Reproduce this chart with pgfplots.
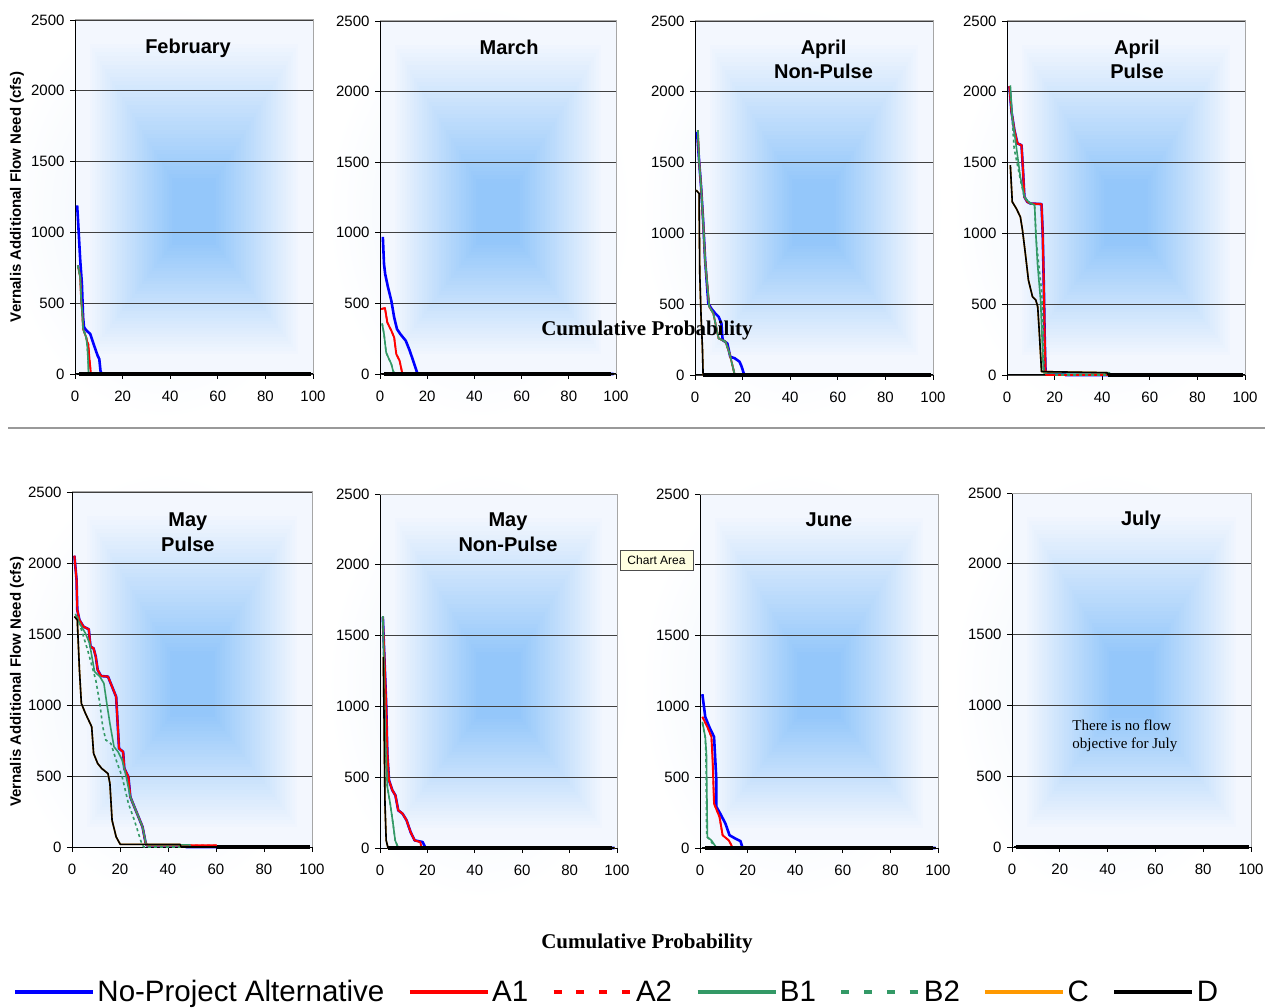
\documentclass[border=0pt]{standalone}
\usepackage{pgfplots}
\pgfplotsset{compat=1.18}
\usepackage{fontspec}
\setmainfont{Liberation Sans}
\newfontfamily\seriffont{Liberation Serif}
\definecolor{npblue}{RGB}{0,0,255}
\definecolor{sgreen}{RGB}{51,153,102}
\definecolor{corange}{RGB}{255,153,0}
\definecolor{tipyellow}{RGB}{255,255,225}
\definecolor{bgcenter}{RGB}{148,199,250}
\definecolor{bgedge}{RGB}{243,247,254}
\definecolor{bgarea}{RGB}{236,243,252}
% nested-rectangle "from centre" gradient behind each plot area
\newcommand\panelbg[4]{%
  \pgfmathsetmacro\cx{#1+0.5*#3}%
  \pgfmathsetmacro\cy{#2+0.45*#4}%
  \foreach \i in {0,...,47}{%
    \pgfmathsetmacro\t{1-\i/48}%
    \pgfmathsetmacro\p{100*min(1,max(0,(0.9-\t)/0.72))}%
    \fill[bgcenter!\p!bgedge] ({\cx-\t*(\cx-#1)},{\cy-\t*(\cy-#2)}) rectangle ({\cx+\t*(#1+#3-\cx)},{\cy+\t*(#2+#4-\cy)});
  }}
\tikzset{
  np/.style={npblue, line width=2.6pt},
  aone/.style={red, line width=1.9pt},
  atwo/.style={red, line width=1.6pt, dash pattern=on 3pt off 3pt},
  bone/.style={sgreen, line width=1.6pt},
  btwo/.style={sgreen, line width=1.6pt, dash pattern=on 3pt off 3pt},
  cc/.style={corange, line width=1.6pt},
  dd/.style={black, line width=1.6pt},
  zl/.style={black, line width=3.4pt},
  ttl/.style={font=\fontsize{20}{24}\bfseries\selectfont, anchor=base},
}
\pgfplotsset{
  panel/.style={
    scale only axis, anchor=south west,
    xmin=0, xmax=100, ymin=0, ymax=2500,
    xtick={0,20,...,100}, ytick={0,500,...,2500},
    axis x line*=bottom, axis y line*=left,
    axis line style={black, line width=1pt, -},
    tick align=outside, major tick length=5pt,
    tick style={black, line width=0.8pt},
    ymajorgrids, grid style={black!75, line width=0.9pt},
    tick label style={font=\fontsize{15}{18}\selectfont},
    xticklabel style={yshift=-8pt},
    yticklabel style={xshift=-2pt},
    /pgf/number format/assume math mode=true,
    /pgf/number format/1000 sep={},
    clip=false,
    every axis plot/.append style={mark=none, line join=round},
    ylabel style={font=\fontsize{15}{18}\bfseries\selectfont},
    execute at end axis={\draw[black!35, line width=1pt] (rel axis cs:0,1) -- (rel axis cs:1,1) -- (rel axis cs:1,0);},
  },
}
\begin{document}
\begin{tikzpicture}[x=1pt,y=1pt]
\useasboundingbox (0,0) rectangle (1265,1007);
% chart area backgrounds
\shade[inner color=bgarea, outer color=white] (5,587) rectangle (322,1004);
\shade[inner color=bgarea, outer color=white] (327,587) rectangle (632,1004);
\shade[inner color=bgarea, outer color=white] (640,587) rectangle (945,1004);
\shade[inner color=bgarea, outer color=white] (952,587) rectangle (1262,1004);
\shade[inner color=bgarea, outer color=white] (5,107) rectangle (322,537);
\shade[inner color=bgarea, outer color=white] (327,107) rectangle (632,537);
\shade[inner color=bgarea, outer color=white] (640,107) rectangle (945,537);
\shade[inner color=bgarea, outer color=white] (952,107) rectangle (1262,537);
% plot area gradients
\panelbg{75}{633}{238}{354}
\panelbg{380}{633}{236}{353}
\panelbg{695}{632}{238}{354}
\panelbg{1007}{632}{238}{354}
\panelbg{72}{160}{240}{355}
\panelbg{380}{159}{237}{354}
\panelbg{700}{159}{238}{354}
\panelbg{1012}{160}{239}{354}
\draw[black!40, line width=1.2pt] (8,579) -- (1265,579);

% ---------- February
\begin{axis}[panel, at={(75pt,633pt)}, width=238pt, height=354pt,
  ylabel={Vernalis Additional Flow Need (cfs)},
  ylabel style={at={(axis description cs:-0.244,0.5)}, anchor=center}]
\addplot[np] coordinates {(0.9,1191)(1.2,1108)(1.7,955)(2.2,802)(2.9,637)(3.4,401)(3.8,330)(4.8,307)(6.4,283)(7.8,212)(9.5,130)(10.2,106)(10.7,24)(11.2,0)(99,0)};
\addplot[aone] coordinates {(1.2,766)(2.2,684)(2.6,519)(3.1,424)(3.4,318)(4.7,259)(5.2,224)(5.6,210)(6.0,118)(6.4,50)(6.7,0)(99,0)};
\addplot[atwo] coordinates {(1.2,766)(2.2,684)(2.6,519)(3.1,424)(3.4,318)(4.7,259)(5.2,224)(5.6,210)(6.0,118)(6.4,50)(6.7,0)(99,0)};
\addplot[bone] coordinates {(1.2,766)(2.2,684)(2.6,519)(3.1,424)(3.4,318)(4.7,259)(5.2,189)(5.5,94)(5.7,0)(99,0)};
\addplot[btwo] coordinates {(1.2,766)(2.2,684)(2.6,519)(3.1,424)(3.4,318)(4.7,259)(5.2,189)(5.5,94)(5.7,0)(99,0)};
\addplot[cc] coordinates {(1,0)(99,0)};
\addplot[dd] coordinates {(1,0)(99,0)};
\addplot[zl] coordinates {(1.8,0)(99,0)};
\node[ttl] at (axis cs:47.5,2265) {February};
\end{axis}

% ---------- March
\begin{axis}[panel, at={(380pt,633pt)}, width=236pt, height=353pt]
\addplot[np] coordinates {(1.2,971)(1.7,778)(2.2,707)(3.4,613)(4.8,519)(6.0,401)(7.2,318)(8.6,283)(10.9,236)(12.6,165)(13.8,106)(15.0,47)(15.9,0)(99,0)};
\addplot[aone] coordinates {(0.5,460)(2.1,467)(3.1,365)(4.8,307)(6.0,259)(6.9,141)(8.3,94)(9.5,0)(99,0)};
\addplot[atwo] coordinates {(0.5,460)(2.1,467)(3.1,365)(4.8,307)(6.0,259)(6.9,141)(8.3,94)(9.5,0)(99,0)};
\addplot[bone] coordinates {(0.9,358)(1.7,283)(2.6,153)(3.8,106)(4.8,71)(5.5,24)(6.2,0)(99,0)};
\addplot[btwo] coordinates {(0.9,358)(1.7,283)(2.6,153)(3.8,106)(4.8,71)(5.5,24)(6.2,0)(99,0)};
\addplot[cc] coordinates {(1,0)(99,0)};
\addplot[dd] coordinates {(1,0)(99,0)};
\addplot[zl] coordinates {(1.7,0)(98,0)};
\node[ttl] at (axis cs:54.7,2265) {March};
\end{axis}

% ---------- April Non-Pulse
\begin{axis}[panel, at={(695pt,632pt)}, width=238pt, height=354pt]
\addplot[np] coordinates {(0.85,1717)(1.7,1517)(2.55,1329)(3.4,1094)(4.25,811)(5.6,506)(6.8,470)(8.5,435)(9.9,412)(11.1,365)(11.6,247)(13.6,223)(14.8,129)(16.7,118)(18.7,94)(19.6,59)(20.7,0)(99,0)};
\addplot[aone] coordinates {(1.2,1729)(1.7,1520)(2.55,1330)(3.4,1090)(4.25,810)(6.0,482)(7.7,435)(9.9,259)(12.8,235)(14.5,153)(16.7,0)(99,0)};
\addplot[atwo] coordinates {(1.2,1729)(1.7,1520)(2.55,1330)(3.4,1090)(4.25,810)(6.0,482)(7.7,435)(9.9,259)(12.8,235)(14.5,153)(16.7,0)(99,0)};
\addplot[bone] coordinates {(1.2,1729)(1.7,1520)(2.55,1330)(3.4,1090)(4.25,810)(6.0,482)(7.7,435)(9.9,259)(12.8,235)(14.5,153)(16.7,0)(99,0)};
\addplot[btwo] coordinates {(1.2,1729)(1.7,1520)(2.55,1330)(3.4,1090)(4.25,810)(6.0,482)(7.7,435)(9.9,259)(12.8,235)(14.5,153)(16.7,0)(99,0)};
\addplot[cc] coordinates {(0.5,1305)(1.7,1282)(2.0,717)(2.55,412)(3.1,200)(3.4,0)(99,0)};
\addplot[dd] coordinates {(0.5,1305)(1.7,1282)(2.0,717)(2.55,412)(3.1,200)(3.4,0)(99,0)};
\addplot[zl] coordinates {(3.4,0)(99,0)};
\node[ttl] at (axis cs:54,2265) {April};
\node[ttl] at (axis cs:54,2095) {Non-Pulse};
\end{axis}

% ---------- April Pulse
\begin{axis}[panel, at={(1007pt,632pt)}, width=238pt, height=354pt]
\addplot[np] coordinates {(1.0,2039)(1.9,1858)(3.1,1729)(4.4,1635)(6.1,1623)(6.8,1423)(7.3,1258)(8.5,1223)(9.9,1211)(14.5,1207)(15.0,1000)(15.5,600)(15.8,294)(16.2,16)(24,16)(24.5,0)(99,0)};
\addplot[aone] coordinates {(1.0,2039)(1.9,1858)(3.1,1729)(4.4,1635)(6.1,1623)(6.8,1423)(7.3,1258)(8.5,1223)(9.9,1211)(14.5,1207)(15.0,1000)(15.5,600)(15.8,294)(16.2,16)(16.5,0)(99,0)};
\addplot[atwo] coordinates {(1.0,2039)(1.9,1858)(3.1,1729)(4.4,1635)(6.1,1623)(6.8,1423)(7.3,1258)(8.5,1223)(9.9,1211)(14.5,1207)(15.0,1000)(15.5,600)(15.8,294)(16.2,16)(16.5,0)(99,0)};
\addplot[bone] coordinates {(1.4,2046)(2.2,1823)(3.9,1611)(5.6,1399)(7.3,1258)(9.0,1223)(11.6,1199)(12.1,1000)(12.8,788)(14.1,529)(15.0,153)(15.3,16)(43,16)(43.5,0)(99,0)};
\addplot[btwo] coordinates {(1.4,2000)(3.0,1600)(5.6,1380)(7.3,1255)(9,1220)(11.6,1195)(12.3,950)(13.2,800)(14.5,600)(15.2,300)(15.5,16)(20,16)(20.5,0)(99,0)};
\addplot[cc] coordinates {(1.4,1482)(2.2,1223)(3.9,1176)(5.6,1117)(6.5,1023)(7.7,858)(9.0,670)(10.7,553)(12.1,529)(12.9,482)(13.6,294)(14.5,24)(42,16)(42.5,0)(99,0)};
\addplot[dd] coordinates {(1.4,1482)(2.2,1223)(3.9,1176)(5.6,1117)(6.5,1023)(7.7,858)(9.0,670)(10.7,553)(12.1,529)(12.9,482)(13.6,294)(14.5,24)(42,16)(42.5,0)(99,0)};
\addplot[zl] coordinates {(42.5,0)(99,0)};
\node[ttl] at (axis cs:54.6,2265) {April};
\node[ttl] at (axis cs:54.6,2095) {Pulse};
\end{axis}

% ---------- May Pulse
\begin{axis}[panel, at={(72pt,160pt)}, width=240pt, height=355pt,
  ylabel={Vernalis Additional Flow Need (cfs)},
  ylabel style={at={(axis description cs:-0.229,0.465)}, anchor=center},
  legend columns=7,
  legend style={at={(axis description cs:-0.246,-0.4085)}, anchor=west,
    draw=none, fill=none, inner sep=0pt,
    font=\fontsize{29.5}{34}\selectfont,
    nodes={inner sep=2.5pt},
    /tikz/every even column/.append style={column sep=21pt}},
  legend cell align=left,
  legend image code/.code={\draw[#1] (0pt,0pt) -- (78pt,0pt);}]
\addplot[np, forget plot] coordinates {(1.0,2051)(1.9,1882)(2.2,1670)(3.1,1599)(4.8,1552)(7.0,1533)(7.7,1411)(9.0,1399)(9.9,1341)(10.7,1247)(12.1,1204)(15.0,1200)(16.7,1129)(18.4,1058)(19.6,694)(21.3,670)(21.8,553)(23.5,494)(24.3,353)(26.0,282)(27.7,212)(29.4,141)(30.6,35)(31.1,12)(47,12)(47.5,0)(99,0)};
\addplot[aone, forget plot] coordinates {(1.0,2051)(1.9,1882)(2.2,1670)(3.1,1599)(4.8,1552)(7.0,1533)(7.7,1411)(9.0,1399)(9.9,1341)(10.7,1247)(12.1,1204)(15.0,1200)(16.7,1129)(18.4,1058)(19.6,694)(21.3,670)(21.8,553)(23.5,494)(24.3,353)(26.0,282)(27.7,212)(29.4,141)(30.6,35)(31.1,12)(60,12)(60.5,0)(99,0)};
\addplot[atwo, forget plot] coordinates {(1.0,2051)(1.9,1882)(2.2,1670)(3.1,1599)(4.8,1552)(7.0,1533)(7.7,1411)(9.0,1399)(9.9,1341)(10.7,1247)(12.1,1204)(15.0,1200)(16.7,1129)(18.4,1058)(19.6,694)(21.3,670)(21.8,553)(23.5,494)(24.3,353)(26.0,282)(27.7,212)(29.4,141)(30.6,35)(31.1,12)(60,12)(60.5,0)(99,0)};
\addplot[bone, forget plot] coordinates {(1.4,1642)(3.1,1576)(5.6,1505)(7.3,1435)(9.4,1235)(11.6,1200)(13.3,1152)(14.5,1011)(15.8,870)(17.5,706)(19.2,670)(20.9,612)(22.6,494)(24.3,353)(27.7,212)(29.4,141)(30.8,24)(31,15)(49,15)(49.5,0)(99,0)};
\addplot[btwo, forget plot] coordinates {(2.2,1623)(4.8,1482)(6.5,1388)(9.9,1176)(11.6,1011)(12.8,847)(14.1,753)(16.2,729)(18.4,612)(20.9,494)(23.5,306)(26.0,188)(28.6,47)(29.4,12)(30,0)(99,0)};
\addplot[cc, forget plot] coordinates {(1.0,1623)(2.2,1599)(3.1,1247)(3.9,1011)(5.6,941)(8.2,847)(9.0,659)(10.7,588)(12.4,553)(15.0,517)(15.8,447)(16.7,188)(18.4,71)(20.1,19)(45,19)(45.5,0)(99,0)};
\addplot[dd, forget plot] coordinates {(1.0,1623)(2.2,1599)(3.1,1247)(3.9,1011)(5.6,941)(8.2,847)(9.0,659)(10.7,588)(12.4,553)(15.0,517)(15.8,447)(16.7,188)(18.4,71)(20.1,19)(45,19)(45.5,0)(99,0)};
\addplot[zl, forget plot] coordinates {(60.5,0)(99,0)};
\addlegendimage{npblue, line width=3.8pt}
\addlegendentry{No-Project Alternative}
\addlegendimage{red, line width=3.8pt}
\addlegendentry{A1}
\addlegendimage{red, line width=3.8pt, dash pattern=on 8pt off 14.7pt}
\addlegendentry{A2}
\addlegendimage{sgreen, line width=3.8pt}
\addlegendentry{B1}
\addlegendimage{sgreen, line width=3.8pt, dash pattern=on 8pt off 14.7pt}
\addlegendentry{B2}
\addlegendimage{corange, line width=3.8pt}
\addlegendentry{C}
\addlegendimage{black, line width=3.8pt}
\addlegendentry{D}
\node[ttl] at (axis cs:48.3,2255) {May};
\node[ttl] at (axis cs:48.3,2083) {Pulse};
\end{axis}

% ---------- May Non-Pulse
\begin{axis}[panel, at={(380pt,159pt)}, width=237pt, height=354pt]
\addplot[np] coordinates {(1.2,1633)(2.6,1020)(3.1,667)(3.8,478)(5.2,408)(6.5,372)(7.7,266)(9.5,243)(11.2,196)(12.9,113)(14.6,54)(18.0,42)(19.2,0)(99,0)};
\addplot[aone] coordinates {(1.2,1633)(2.6,1020)(3.1,667)(3.8,478)(5.2,408)(6.5,372)(7.7,266)(9.5,243)(11.2,196)(12.9,113)(14.6,54)(17.0,42)(17.5,0)(99,0)};
\addplot[atwo] coordinates {(1.2,1633)(2.6,1020)(3.1,667)(3.8,478)(5.2,408)(6.5,372)(7.7,266)(9.5,243)(11.2,196)(12.9,113)(14.6,54)(17.0,42)(17.5,0)(99,0)};
\addplot[bone] coordinates {(1.2,1637)(1.7,1256)(2.2,785)(3.1,431)(4.3,313)(5.5,172)(6.4,54)(7.7,0)(99,0)};
\addplot[btwo] coordinates {(1.2,1637)(1.7,1256)(2.2,785)(3.1,431)(4.3,313)(5.5,172)(6.4,54)(7.7,0)(99,0)};
\addplot[cc] coordinates {(1.4,1350)(1.7,926)(2.1,313)(2.6,54)(3.4,0)(99,0)};
\addplot[dd] coordinates {(1.4,1350)(1.7,926)(2.1,313)(2.6,54)(3.4,0)(99,0)};
\addplot[zl] coordinates {(3.4,0)(98,0)};
\node[ttl] at (axis cs:54,2269) {May};
\node[ttl] at (axis cs:54,2097) {Non-Pulse};
\end{axis}

% ---------- June
\begin{axis}[panel, at={(700pt,159pt)}, width=238pt, height=354pt,
  yticklabels={0,500,1000,1500,{},2500}]
\addplot[np] coordinates {(1.0,1086)(2.2,926)(3.9,855)(5.9,785)(6.8,502)(6.9,290)(8.5,243)(10.7,172)(12.4,90)(14.9,66)(17.0,49)(17.9,0)(99,0)};
\addplot[aone] coordinates {(1.0,926)(3.1,855)(4.8,785)(5.3,620)(5.9,313)(8.2,219)(9.5,90)(12.1,54)(13.8,0)(99,0)};
\addplot[atwo] coordinates {(1.0,926)(3.1,855)(4.8,785)(5.3,620)(5.9,313)(8.2,219)(9.5,90)(12.1,54)(13.8,0)(99,0)};
\addplot[bone] coordinates {(1.0,891)(2.2,785)(2.7,667)(3.1,78)(4.8,54)(7.0,0)(99,0)};
\addplot[btwo] coordinates {(1.0,880)(2.2,780)(2.5,650)(2.8,80)(4.5,50)(6.5,0)(99,0)};
\addplot[cc] coordinates {(1,0)(99,0)};
\addplot[dd] coordinates {(1,0)(99,0)};
\addplot[zl] coordinates {(2,0)(98,0)};
\node[ttl] at (axis cs:54.2,2269) {June};
\end{axis}

% ---------- July
\begin{axis}[panel, at={(1012pt,160pt)}, width=239pt, height=354pt]
\addplot[np] coordinates {(1,0)(99,0)};
\addplot[bone] coordinates {(1,0)(99,0)};
\addplot[dd] coordinates {(1,0)(99,0)};
\addplot[zl] coordinates {(1.5,0)(99,0)};
\node[ttl] at (axis cs:54,2269) {July};
\node[font=\fontsize{15}{18}\seriffont\selectfont, anchor=base west] at (axis cs:23.8,826) {There is no flow};
\node[font=\fontsize{15}{18}\seriffont\selectfont, anchor=base west] at (axis cs:23.8,699) {objective for July};
\end{axis}

% overlay texts
\node[font=\fontsize{21}{24}\seriffont\bfseries\selectfont] at (647,677) {Cumulative Probability};
\node[font=\fontsize{21}{24}\seriffont\bfseries\selectfont] at (647,64) {Cumulative Probability};
\node[fill=tipyellow, draw=black!70, line width=0.8pt, font=\fontsize{12}{14}\selectfont,
      minimum width=73pt, minimum height=20pt, inner sep=1pt] at (656.5,447) {Chart Area};
\end{tikzpicture}
\end{document}
